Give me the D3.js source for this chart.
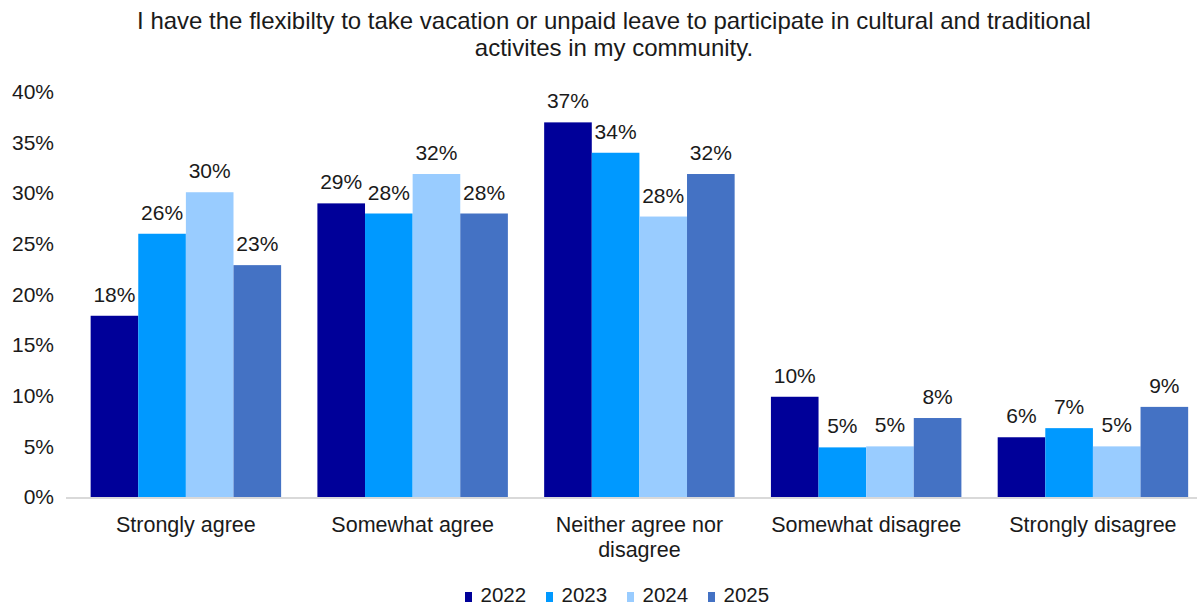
<!DOCTYPE html>
<html>
<head>
<meta charset="utf-8">
<script src="https://cdn.jsdelivr.net/npm/d3@7"></script>
<style>
  html, body { margin: 0; padding: 0; background: #fff; }
  svg { display: block; font-family: "Liberation Sans", Arial, sans-serif; }
</style>
</head>
<body>
<svg id="chart" width="1197" height="606"></svg>
<script>
const titleLines = [
  "I have the flexibilty to take vacation or unpaid leave to participate in cultural and traditional",
  "activites in my community."
];
const categories = ["Strongly agree", "Somewhat agree", "Neither agree nor disagree", "Somewhat disagree", "Strongly disagree"];
const categoryLines = [["Strongly agree"], ["Somewhat agree"], ["Neither agree nor", "disagree"], ["Somewhat disagree"], ["Strongly disagree"]];
const years = ["2022", "2023", "2024", "2025"];
const colors = ["#000099", "#0099FF", "#99CCFF", "#4472C4"];
const values2022 = [17.9, 29, 37, 9.9, 5.9];
const values2023 = [26, 28, 34, 4.9, 6.8];
const values2024 = [30.1, 31.9, 27.7, 5, 5];
const values2025 = [22.9, 28, 31.9, 7.8, 8.9];
const yTicks = [0, 5, 10, 15, 20, 25, 30, 35, 40];

const series = [values2022, values2023, values2024, values2025];
const svg = d3.select("#chart");
const textColor = "#1a1a1a";

const x0 = d3.scaleBand().domain(categories).range([72.5, 1206.3]).paddingInner(0.16).paddingOuter(0.08);
const x1 = d3.scaleBand().domain(years).range([0, x0.bandwidth()]);
const y = d3.scaleLinear().domain([0, 40]).range([497, 92]);

// Title
svg.append("g").selectAll("text").data(titleLines).join("text")
  .attr("x", 614).attr("y", (d, i) => 29 + i * 27)
  .attr("text-anchor", "middle").attr("font-size", 24).attr("fill", textColor)
  .text(d => d);

// Y axis labels
const yAxis = d3.axisLeft(y).tickValues(yTicks).tickFormat(d => d + "%").tickSize(0).tickPadding(0);
const yg = svg.append("g").attr("transform", "translate(54,0)").call(yAxis);
yg.select(".domain").remove();
yg.selectAll("text").attr("font-size", 21).attr("fill", textColor).attr("font-family", "Liberation Sans, Arial, sans-serif");

// Bars
const groups = svg.append("g").selectAll("g").data(categories).join("g")
  .attr("transform", d => `translate(${x0(d)},0)`);
groups.selectAll("rect").data((c, ci) => years.map((yr, si) => ({ yr, si, v: series[si][ci] })))
  .join("rect")
  .attr("x", d => x1(d.yr)).attr("width", x1.bandwidth())
  .attr("y", d => y(d.v)).attr("height", d => y(0) - y(d.v))
  .attr("fill", d => colors[d.si]);
groups.selectAll("text.lbl").data((c, ci) => years.map((yr, si) => ({ yr, si, v: series[si][ci] })))
  .join("text").attr("class", "lbl")
  .attr("x", d => x1(d.yr) + x1.bandwidth() / 2)
  .attr("y", d => y(d.v) - 14)
  .attr("text-anchor", "middle").attr("font-size", 21).attr("fill", textColor)
  .text(d => Math.round(d.v) + "%");

// Baseline
svg.append("line").attr("x1", 66).attr("x2", 1197).attr("y1", y(0) + 1).attr("y2", y(0) + 1)
  .attr("stroke", "#d9d9d9").attr("stroke-width", 2);

// Category labels
const xg = svg.append("g").selectAll("text").data(categories).join("text")
  .attr("x", d => x0(d) + x0.bandwidth() / 2).attr("y", 532)
  .attr("text-anchor", "middle").attr("font-size", 21.5).attr("fill", textColor);
xg.selectAll("tspan").data((d, i) => categoryLines[i]).join("tspan")
  .attr("x", function() { return d3.select(this.parentNode).attr("x"); })
  .attr("dy", (d, i) => i === 0 ? 0 : 25)
  .text(d => d);

// Legend
const legend = svg.append("g").selectAll("g").data(years).join("g")
  .attr("transform", (d, i) => `translate(${465 + i * 81},0)`);
legend.append("rect").attr("x", 0).attr("y", 592).attr("width", 7).attr("height", 10)
  .attr("fill", (d, i) => colors[i]);
legend.append("text").attr("x", 15.5).attr("y", 602).attr("font-size", 20.5).attr("fill", textColor).text(d => d);
</script>
</body>
</html>
